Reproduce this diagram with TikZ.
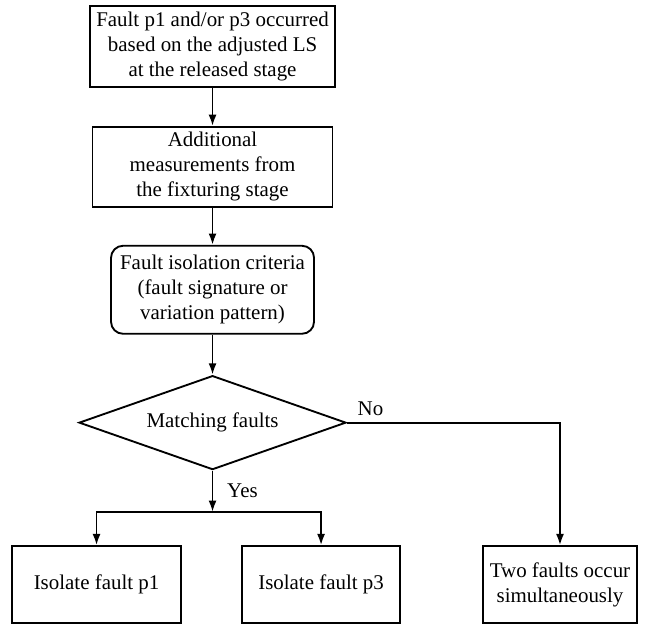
\documentclass[tikz,border=0pt]{standalone}
\usepackage{fontspec}
\setmainfont{Liberation Serif}
\usetikzlibrary{arrows.meta,positioning,shapes.geometric}

\begin{document}
\begin{tikzpicture}[>={Latex[length=8.5pt,width=6pt]},line width=1.4pt,
  font=\fontsize{15.7}{18.75}\selectfont,
  box/.style={draw,align=center,inner sep=2pt},
  roundbox/.style={box,rounded corners=9pt},
  decision/.style={draw,diamond,aspect=2.8,inner sep=0pt}]
\useasboundingbox (0,0) rectangle (489.75pt,-471.75pt);
% main column
\node[box,minimum width=183.75pt,minimum height=60.75pt] (fault) at (159.4pt,-34.9pt)
  {Fault p1 and/or p3 occurred\\based on the adjusted LS\\at the released stage};
\node[box,below=28.5pt of fault,minimum width=180pt,minimum height=60pt] (meas)
  {Additional\\measurements from\\the fixturing stage};
\node[roundbox,below=27.75pt of meas,minimum width=152.25pt,minimum height=66pt] (crit)
  {Fault isolation criteria\\(fault signature or\\variation pattern)};
\node[decision,below=30pt of crit,minimum width=200.25pt,minimum height=70.5pt] (match)
  {Matching faults};
% outcomes
\node[box,below=56pt of match,xshift=-87pt,minimum width=126.75pt,minimum height=57.75pt] (iso1)
  {Isolate fault p1};
\node[box,below=56pt of match,xshift=81.4pt,minimum width=118.5pt,minimum height=57.75pt] (iso3)
  {Isolate fault p3};
\node[box,below=56pt of match,xshift=260.6pt,minimum width=115.5pt,minimum height=57.75pt] (both)
  {Two faults occur\\simultaneously};
\coordinate[below=31pt of match] (split);
% arrows
\draw[->] (fault) -- (meas);
\draw[->] (meas) -- (crit);
\draw[->] (crit) -- (match);
\draw[->] (match.south) -- (split) node[midway,right=7pt] {Yes};
\draw[->] (split) -| (iso1.north);
\draw[->] (split) -| (iso3.north);
\draw[->] (match.east) -| (both.north) node[pos=0,above right=1pt and 4pt] {No};
\end{tikzpicture}
\end{document}
